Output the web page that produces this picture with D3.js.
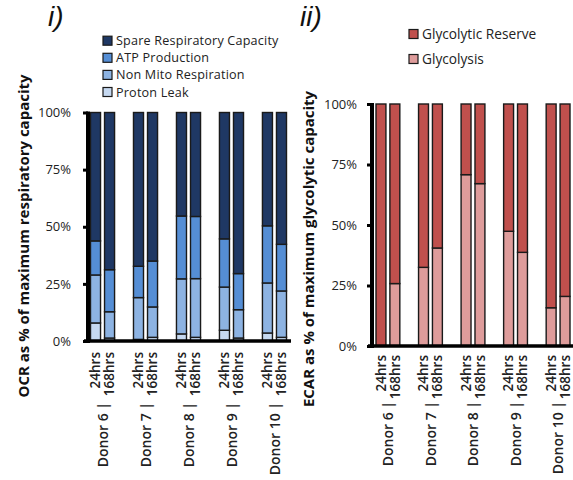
<!DOCTYPE html>
<html>
<head>
<meta charset="utf-8">
<script src="https://cdn.jsdelivr.net/npm/d3@7"></script>
<style>
  body { margin: 0; background: #fff; }
  svg { display: block; font-family: 'Open Sans', 'Liberation Sans', sans-serif; }
</style>
</head>
<body>
<svg id="chart" width="573" height="480"></svg>
<script>
// categories
const donors = ["Donor 6", "Donor 7", "Donor 8", "Donor 9", "Donor 10"];
const times = ["24hrs", "168hrs"];

// panel i) OCR segments (% of max respiratory capacity), order: donor x time
const protonLeak  = [7.9, 1.3, 0.7, 1.6, 3.1, 1.6, 4.7, 1.3, 3.5, 1.6];
const nonMito     = [21.0, 11.5, 18.3, 13.3, 24.1, 25.7, 18.9, 12.4, 21.9, 20.3];
const atpProd     = [14.9, 18.4, 13.7, 20.1, 27.5, 27.2, 21.1, 15.8, 25.0, 20.4];
const spareCap    = [56.2, 68.8, 67.3, 65.0, 45.3, 45.5, 55.3, 70.5, 49.6, 57.7];

// panel ii) ECAR segments (% of max glycolytic capacity)
const glycolysis  = [0, 25.8, 32.5, 40.5, 70.8, 67.1, 47.4, 38.7, 15.8, 20.5];
const glycReserve = [100, 74.2, 67.5, 59.5, 29.2, 32.9, 52.6, 61.3, 84.2, 79.5];

const yTicks = [0, 25, 50, 75, 100];

const svg = d3.select('#chart');

function rows(seriesKeys, seriesVals) {
  const out = [];
  donors.forEach((d, i) => times.forEach((t, j) => {
    const r = { donor: d, time: t };
    seriesKeys.forEach((k, s) => r[k] = seriesVals[s][i * 2 + j]);
    out.push(r);
  }));
  return out;
}

function drawPanel(cfg) {
  const g = svg.append('g');
  const y = d3.scaleLinear().domain([0, 100]).range([cfg.y0, cfg.y1]);
  const x0 = d3.scaleBand().domain(donors).range([cfg.xStart, cfg.xEnd]).paddingInner(0.44).paddingOuter(0);
  const x1 = d3.scaleBand().domain(times).range([0, x0.bandwidth()]).paddingInner(0.2857).paddingOuter(0);

  const data = rows(cfg.keys, cfg.vals);
  const stacked = d3.stack().keys(cfg.keys)(data);
  const color = d3.scaleOrdinal().domain(cfg.keys).range(cfg.colors);

  g.selectAll('g.s').data(stacked).join('g').attr('class', 's')
    .attr('fill', d => color(d.key))
    .selectAll('rect').data(d => d).join('rect')
    .attr('x', d => x0(d.data.donor) + x1(d.data.time))
    .attr('width', x1.bandwidth())
    .attr('y', d => y(d[1]))
    .attr('height', d => Math.max(0, y(d[0]) - y(d[1])))
    .attr('stroke', '#1a1a1a').attr('stroke-width', 1.4);

  // y axis
  const yAx = g.append('g').attr('transform', `translate(${cfg.axisX},0)`)
    .call(d3.axisLeft(y).tickValues(yTicks).tickFormat(d => d + '%').tickSize(5).tickSizeOuter(0).tickPadding(cfg.tickPad));
  yAx.select('.domain').remove();
  yAx.selectAll('.tick line').attr('stroke', '#000').attr('stroke-width', 3);
  yAx.selectAll('.tick text').attr('font-size', 13).attr('fill', '#222')
    .attr('font-family', "'Open Sans', sans-serif");
  g.append('line').attr('x1', cfg.axisX).attr('x2', cfg.axisX)
    .attr('y1', y(100) - 1).attr('y2', y(0) + 2)
    .attr('stroke', '#000').attr('stroke-width', 4);
  // x axis line
  g.append('line').attr('x1', cfg.axisX - 4).attr('x2', cfg.xAxisEnd)
    .attr('y1', y(0)).attr('y2', y(0)).attr('stroke', '#000').attr('stroke-width', 3.5);

  // time labels
  donors.forEach(dn => times.forEach(t => {
    const cx = x0(dn) + x1(t) + x1.bandwidth() / 2;
    g.append('text')
      .attr('transform', `translate(${cx},${y(0) + cfg.timeGap}) rotate(-90)`)
      .attr('text-anchor', 'end').attr('dy', '0.36em')
      .attr('font-size', 13.5).attr('font-weight', 600).attr('fill', '#222')
      .text(t);
  }));
  // donor labels
  donors.forEach(dn => {
    const cx = x0(dn) + x0.bandwidth() / 2;
    g.append('text')
      .attr('transform', `translate(${cx},${cfg.donorY}) rotate(-90)`)
      .attr('text-anchor', 'end').attr('dy', '0.36em')
      .attr('font-size', 14).attr('font-weight', 600).attr('fill', '#222')
      .text(dn + ' |');
  });

  // y title
  g.append('text')
    .attr('transform', `translate(${cfg.titleX},${cfg.titleY}) rotate(-90)`)
    .attr('text-anchor', 'middle').attr('dy', '0.36em')
    .attr('font-size', 15).attr('font-weight', 700).attr('fill', '#111')
    .text(cfg.title);

  // panel label
  g.append('text').attr('x', cfg.tagX).attr('y', cfg.tagY)
    .attr('font-size', 28).attr('font-style', 'italic').attr('fill', '#111')
    .attr('font-family', "'Liberation Sans', sans-serif")
    .text(cfg.tag);

  // legend
  const lg = g.selectAll('g.lg').data(cfg.legend).join('g').attr('class', 'lg')
    .attr('transform', (d, i) => `translate(${cfg.legX},${cfg.legY + i * cfg.legStep})`);
  lg.append('rect').attr('x', 0).attr('y', -4.5).attr('width', 9).attr('height', 9)
    .attr('fill', d => color(d)).attr('stroke', '#1a1a1a').attr('stroke-width', 1.2);
  lg.append('text').attr('x', 13).attr('dy', '0.36em')
    .attr('font-size', cfg.legFont).attr('letter-spacing', cfg.legSpacing).attr('fill', '#222').text(d => d);
}

drawPanel({
  keys: ['Proton Leak', 'Non Mito Respiration', 'ATP Production', 'Spare Respiratory Capacity'],
  vals: [protonLeak, nonMito, atpProd, spareCap],
  colors: ['#C6D9F1', '#8DB3E2', '#558ED5', '#1F3864'],
  legend: ['Spare Respiratory Capacity', 'ATP Production', 'Non Mito Respiration', 'Proton Leak'],
  y0: 341, y1: 112.5, xStart: 90.5, xEnd: 286.5, axisX: 88, xAxisEnd: 291, tickPad: 12,
  timeGap: 11, donorY: 402, title: 'OCR as % of maximum respiratory capacity', titleX: 24, titleY: 236,
  tag: 'i)', tagX: 48, tagY: 26, legX: 103, legY: 40.7, legStep: 17.1, legFont: 12.6, legSpacing: 0.2
});

drawPanel({
  keys: ['Glycolysis', 'Glycolytic Reserve'],
  vals: [glycolysis, glycReserve],
  colors: ['#DE9C9B', '#C0504D'],
  legend: ['Glycolytic Reserve', 'Glycolysis'],
  y0: 346, y1: 104, xStart: 376, xEnd: 570, axisX: 372, xAxisEnd: 573, tickPad: 10,
  timeGap: 9, donorY: 401, title: 'ECAR as % of maximum glycolytic capacity', titleX: 309, titleY: 249,
  tag: 'ii)', tagX: 300, tagY: 26, legX: 409, legY: 34, legStep: 25, legFont: 13.7, legSpacing: 0
});
</script>
</body>
</html>
